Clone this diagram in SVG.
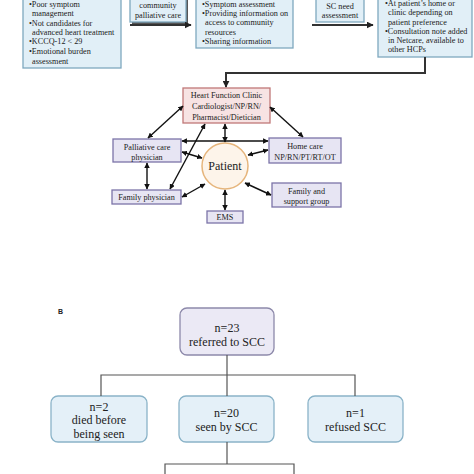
<svg xmlns="http://www.w3.org/2000/svg" width="474" height="474" viewBox="0 0 474 474">
<defs>
<marker id="ah" viewBox="0 0 10 10" refX="9" refY="5" markerWidth="5.5" markerHeight="5.5" orient="auto-start-reverse" markerUnits="userSpaceOnUse"><path d="M0,0 L10,5 L0,10 z" fill="#111"/></marker>
<marker id="ahb" viewBox="0 0 10 10" refX="9" refY="5" markerWidth="7" markerHeight="7" orient="auto" markerUnits="userSpaceOnUse"><path d="M0,0 L10,5 L0,10 z" fill="#222"/></marker>
</defs>
<style>
text{font-family:"Liberation Serif","Times New Roman",serif;fill:#222}
.t{font-size:8.2px}
.c{text-anchor:middle}
.blue{fill:#e1eff7;stroke:#7ea8bf;stroke-width:1.3}
.pur{fill:#e7e5f3;stroke:#7c74a8;stroke-width:1.3}
.pink{fill:#f7e3e3;stroke:#c07878;stroke-width:1.3}
.rb{fill:#e4f0f8;stroke:#8ab3c8;stroke-width:1.3}
.rp{fill:#ebe9f5;stroke:#8d89aa;stroke-width:1.3}
.b{font-size:12px}
.link{stroke:#111;stroke-width:1.4;fill:none;marker-start:url(#ah);marker-end:url(#ah)}
.flow{stroke:#333;stroke-width:2;fill:none;marker-end:url(#ahb)}
.tree{stroke:#555;stroke-width:1.2;fill:none}
</style>
<rect width="474" height="474" fill="#fff"/>

<g id="box1">
<rect class="blue" x="23" y="-10" width="98" height="78"/>
<text class="t" x="29" y="7">•Poor symptom</text>
<text class="t" x="32" y="16.2">management</text>
<text class="t" x="29" y="25.6">•Not candidates for</text>
<text class="t" x="32" y="35">advanced heart treatment</text>
<text class="t" x="29" y="44.4">•KCCQ-12 &lt; 29</text>
<text class="t" x="29" y="54">•Emotional burden</text>
<text class="t" x="32" y="63.6">assessment</text>
</g>
<g id="box2">
<rect x="132" y="-8" width="56" height="32" fill="#555"/>
<rect class="blue" x="130" y="-10" width="56" height="32"/>
<text class="t c" x="158" y="8">community</text>
<text class="t c" x="158" y="18">palliative care</text>
</g>
<g id="box3">
<rect class="blue" x="196" y="-10" width="97" height="58"/>
<text class="t" x="202" y="6.5">•Symptom assessment</text>
<text class="t" x="202" y="15.5">•Providing information on</text>
<text class="t" x="205" y="25">access to community</text>
<text class="t" x="205" y="34.5">resources</text>
<text class="t" x="202" y="44">•Sharing information</text>
</g>
<g id="box4">
<rect class="blue" x="316" y="-10" width="48" height="32"/>
<text class="t c" x="340" y="9">SC need</text>
<text class="t c" x="340" y="18">assessment</text>
</g>
<g id="box5">
<rect class="blue" x="378" y="-10" width="94" height="67"/>
<text class="t" x="385" y="6">•At patient’s home or</text>
<text class="t" x="388" y="15">clinic depending on</text>
<text class="t" x="388" y="24.5">patient preference</text>
<text class="t" x="385" y="33.5">•Consultation note added</text>
<text class="t" x="388" y="42.5">in Netcare, available to</text>
<text class="t" x="388" y="52">other HCPs</text>
</g>

<g id="heart">
<rect class="pink" x="183" y="88" width="87" height="35"/>
<text class="t c" x="226.5" y="98">Heart Function Clinic</text>
<text class="t c" x="226.5" y="109">Cardiologist/NP/RN/</text>
<text class="t c" x="226.5" y="120">Pharmacist/Dietician</text>
</g>
<g id="palliative">
<rect class="pur" x="113" y="139" width="68" height="23"/>
<text class="t c" x="147" y="150">Palliative care</text>
<text class="t c" x="147" y="160">physician</text>
</g>
<g id="homecare">
<rect class="pur" x="269" y="138" width="72" height="25"/>
<text class="t c" x="305" y="149">Home care</text>
<text class="t c" x="305" y="160">NP/RN/PT/RT/OT</text>
</g>
<g id="patient">
<circle cx="225" cy="166" r="23" fill="#fdf4ea" stroke="#e6b57c" stroke-width="1.5"/>
<text class="c" x="225" y="170" font-size="12">Patient</text>
</g>
<g id="familyphys">
<rect class="pur" x="112" y="190" width="69" height="14"/>
<text class="t c" x="146.5" y="200">Family physician</text>
</g>
<g id="familysupport">
<rect class="pur" x="272" y="183" width="69" height="24"/>
<text class="t c" x="306.5" y="194">Family and</text>
<text class="t c" x="306.5" y="204">support group</text>
</g>
<g id="ems">
<rect class="pur" x="207" y="211" width="36" height="12"/>
<text class="t c" x="225" y="220">EMS</text>
</g>

<text x="58" y="314" font-size="7" font-weight="bold" style="font-family:'Liberation Sans',Arial,sans-serif">B</text>

<g id="n23">
<rect class="rp" x="180" y="308" width="94" height="47" rx="7"/>
<text class="b c" x="227" y="332">n=23</text>
<text class="b c" x="227" y="346">referred to SCC</text>
</g>
<g id="n2">
<rect class="rb" x="51" y="396" width="96" height="46" rx="7"/>
<text class="b c" x="99" y="411">n=2</text>
<text class="b c" x="99" y="424">died before</text>
<text class="b c" x="99" y="438">being seen</text>
</g>
<g id="n20">
<rect class="rb" x="179" y="396" width="95" height="46" rx="7"/>
<text class="b c" x="226.5" y="417">n=20</text>
<text class="b c" x="226.5" y="431">seen by SCC</text>
</g>
<g id="n1">
<rect class="rb" x="308" y="396" width="95" height="46" rx="7"/>
<text class="b c" x="355.5" y="417">n=1</text>
<text class="b c" x="355.5" y="431">refused SCC</text>
</g>

<g id="connectors">
<line class="flow" x1="130" y1="25" x2="191" y2="25"/>
<line class="flow" x1="312" y1="25" x2="373" y2="25"/>
<polyline class="flow" points="425,57 425,73 226,73 226,87"/>
<line class="link" x1="183" y1="106" x2="148" y2="138"/>
<line class="link" x1="205" y1="124" x2="170" y2="189"/>
<line class="link" x1="225" y1="124" x2="225" y2="142"/>
<line class="link" x1="270" y1="107" x2="303" y2="137"/>
<line class="link" x1="182" y1="141" x2="268" y2="141"/>
<line class="link" x1="182" y1="152" x2="202" y2="158"/>
<line class="link" x1="268" y1="150" x2="248" y2="155"/>
<line class="link" x1="147" y1="163" x2="147" y2="189"/>
<line class="link" x1="182" y1="197" x2="205" y2="184"/>
<line class="link" x1="225" y1="190" x2="225" y2="210"/>
<line class="link" x1="245" y1="183" x2="271" y2="195"/>
<polyline class="tree" points="227,355 227,375"/>
<polyline class="tree" points="101,396 101,375 355,375 355,396"/>
<line class="tree" x1="227" y1="375" x2="227" y2="396"/>
<polyline class="tree" points="227,442 227,464"/>
<polyline class="tree" points="165,474 165,464 294,464 294,474"/>
</g>
</svg>
